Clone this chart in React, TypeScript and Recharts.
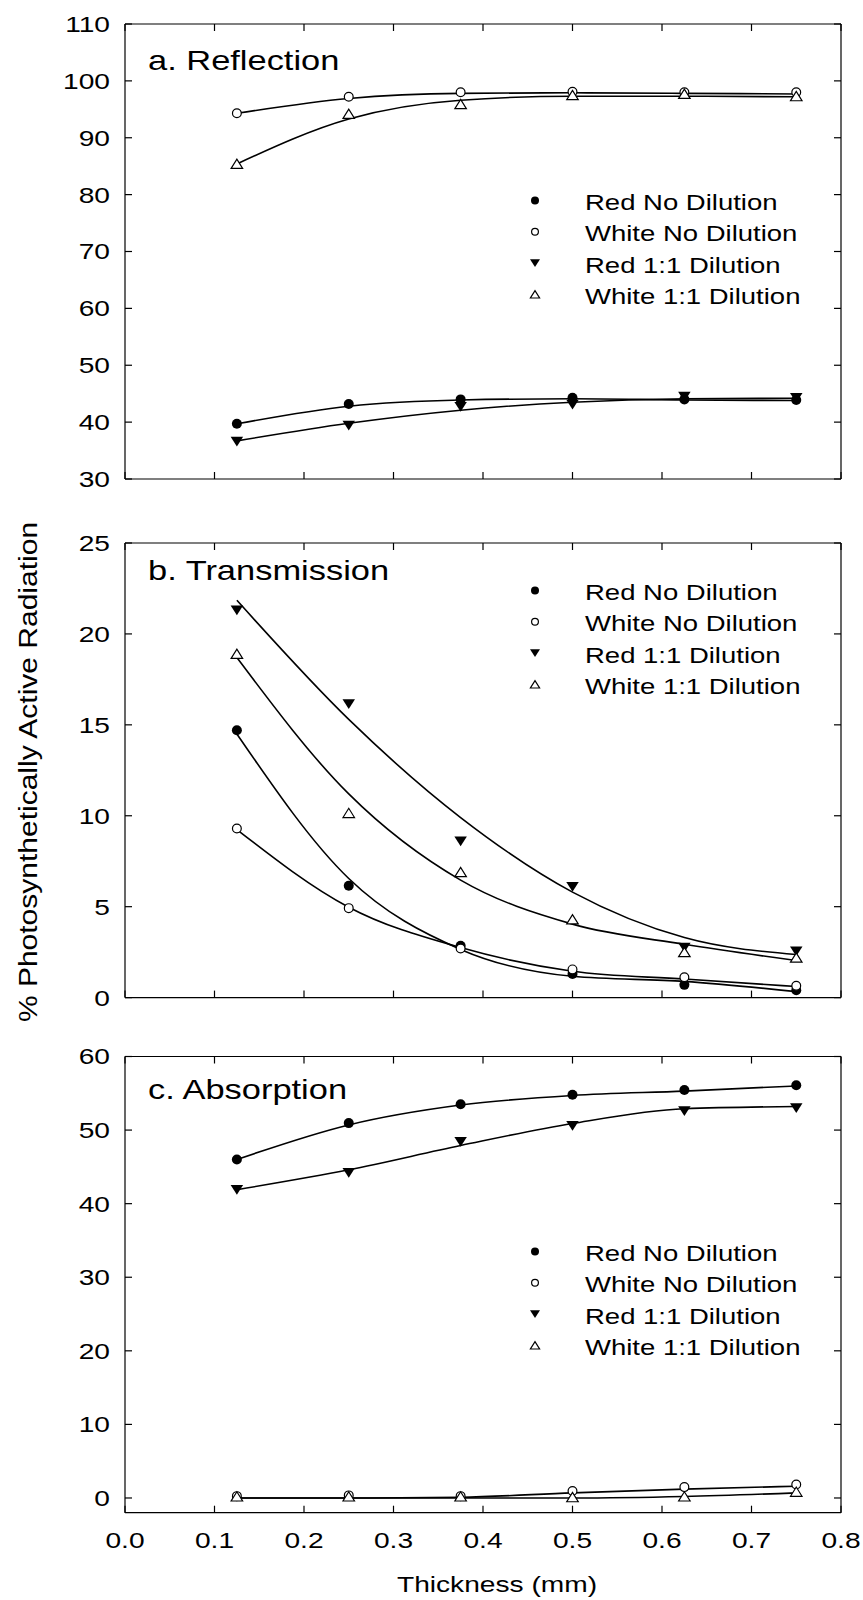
import React from 'react';
import { ComposedChart, Line, Scatter, XAxis, YAxis, Legend } from 'recharts';

const FONT = '"Liberation Sans", Arial, Helvetica, sans-serif';

const thickness = [0.125, 0.25, 0.375, 0.5, 0.625, 0.75];
const xTicks = [0, 0.1, 0.2, 0.3, 0.4, 0.5, 0.6, 0.7, 0.8];
const reflTicks = [30, 40, 50, 60, 70, 80, 90, 100, 110];
const transTicks = [0, 5, 10, 15, 20, 25];
const absTicks = [0, 10, 20, 30, 40, 50, 60];

// a. Reflection – measured points
const reflRedNo = [39.7, 43.2, 44.0, 44.3, 44.0, 43.9];
const reflWhiteNo = [94.3, 97.2, 98.0, 98.1, 98.0, 98.0];
const reflRed11 = [36.6, 39.4, 42.7, 43.1, 44.5, 44.3];
const reflWhite11 = [85.4, 94.2, 95.9, 97.5, 97.7, 97.3];
// a. Reflection – fitted curves
const reflRedNoFit = [39.7, 42.8, 43.9, 44.1, 43.9, 43.8];
const reflWhiteNoFit = [94.3, 96.9, 97.8, 97.9, 97.8, 97.7];
const reflRed11Fit = [36.7, 39.8, 42.1, 43.5, 44.1, 44.2];
const reflWhite11Fit = [85.4, 93.3, 96.6, 97.3, 97.3, 97.2];

// b. Transmission
const transRedNo = [14.7, 6.15, 2.85, 1.3, 0.7, 0.4];
const transWhiteNo = [9.3, 4.92, 2.7, 1.55, 1.12, 0.65];
const transRed11 = [21.3, 16.15, 8.6, 6.1, 2.75, 2.55];
const transWhite11 = [18.9, 10.15, 6.9, 4.3, 2.5, 2.2];
const transRedNoFit = [14.5, 6.55, 2.65, 1.17, 0.89, 0.33];
const transWhiteNoFit = [9.24, 4.97, 2.75, 1.45, 1.02, 0.61];
const transRed11Fit = [21.85, 15.3, 9.9, 5.8, 3.3, 2.37];
const transWhite11Fit = [18.7, 11.2, 6.46, 4.04, 2.93, 2.04];

// c. Absorption
const absRedNo = [46.0, 50.95, 53.5, 54.8, 55.45, 56.1];
const absWhiteNo = [0.25, 0.35, 0.25, 0.94, 1.48, 1.83];
const absRed11 = [41.9, 44.2, 48.4, 50.6, 52.6, 53.0];
const absWhite11 = [0.2, 0.2, 0.2, 0.1, 0.2, 0.84];
const absRedNoFit = [46.0, 50.7, 53.4, 54.7, 55.3, 56.0];
const absWhiteNoFit = [0.0, 0.0, 0.1, 0.7, 1.2, 1.6];
const absRed11Fit = [41.9, 44.6, 47.9, 50.9, 52.9, 53.2];
const absWhite11Fit = [0.0, 0.0, 0.0, 0.0, 0.2, 0.7];

const seriesNames = ['Red No Dilution', 'White No Dilution', 'Red 1:1 Dilution', 'White 1:1 Dilution'];
const seriesKeys = ['redNo', 'whiteNo', 'red11', 'white11'];
const seriesShapes = ['dot', 'circle', 'down', 'up'];

function buildRows(points: number[][], fits: number[][]) {
  return thickness.map((x, i) => {
    const row: Record<string, number> = { x };
    seriesKeys.forEach((k, s) => {
      row[k] = points[s][i];
      row[k + 'Fit'] = fits[s][i];
    });
    return row;
  });
}

function marker(kind: string, cx: number, cy: number, s: number) {
  switch (kind) {
    case 'dot':
      return <circle cx={cx} cy={cy} r={s} fill="#000" />;
    case 'circle':
      return <circle cx={cx} cy={cy} r={s - 0.6} fill="#fff" stroke="#000" strokeWidth={1.2} />;
    case 'down':
      return (
        <polygon
          points={`${cx - s * 1.25},${cy - s * 0.95} ${cx + s * 1.25},${cy - s * 0.95} ${cx},${cy + s * 1.0}`}
          fill="#000"
        />
      );
    default:
      return (
        <polygon
          points={`${cx - s * 1.15},${cy + s * 0.9} ${cx + s * 1.15},${cy + s * 0.9} ${cx},${cy - s * 0.95}`}
          fill="#fff"
          stroke="#000"
          strokeWidth={1.2}
        />
      );
  }
}

const STROKE = { stroke: '#000', strokeWidth: 1.2 };

const YTick = (props: any) => {
  const { x, y, payload } = props;
  return (
    <text
      transform={`translate(${x},${y}) scale(1.28,1)`}
      textAnchor="end"
      dy="0.36em"
      fontSize={22}
      fontFamily={FONT}
      fill="#000"
    >
      {payload.value}
    </text>
  );
};

const XTick = (props: any) => {
  const { x, y, payload } = props;
  return (
    <text
      transform={`translate(${x},${y}) scale(1.28,1)`}
      textAnchor="middle"
      dy="0.716em"
      fontSize={22}
      fontFamily={FONT}
      fill="#000"
    >
      {Number(payload.value).toFixed(1)}
    </text>
  );
};

const NoTick = () => <g />;

const LegendBox = () => (
  <svg width={320} height={130} style={{ display: 'block', overflow: 'visible' }}>
    {seriesNames.map((name, i) => {
      const cy = 12 + i * 31.3;
      return (
        <g key={name}>
          {marker(seriesShapes[i], 15, cy - 1.5, 4)}
          <text
            transform={`translate(65,${cy + 7.9}) scale(1.25,1)`}
            fontSize={22}
            fontFamily={FONT}
            fill="#000"
          >
            {name}
          </text>
        </g>
      );
    })}
  </svg>
);

const panels = [
  {
    title: 'a. Reflection',
    rows: buildRows(
      [reflRedNo, reflWhiteNo, reflRed11, reflWhite11],
      [reflRedNoFit, reflWhiteNoFit, reflRed11Fit, reflWhite11Fit]
    ),
    domain: [30, 110],
    ticks: reflTicks,
    top: 0,
    height: 500,
    mTop: 23,
    mBottom: 20,
    legendTop: 190,
    titleBase: 69.5,
    showX: false,
  },
  {
    title: 'b. Transmission',
    rows: buildRows(
      [transRedNo, transWhiteNo, transRed11, transWhite11],
      [transRedNoFit, transWhiteNoFit, transRed11Fit, transWhite11Fit]
    ),
    domain: [0, 25],
    ticks: transTicks,
    top: 520,
    height: 500,
    mTop: 22,
    mBottom: 21.4,
    legendTop: 59.7,
    titleBase: 580,
    showX: false,
  },
  {
    title: 'c. Absorption',
    rows: buildRows(
      [absRedNo, absWhiteNo, absRed11, absWhite11],
      [absRedNoFit, absWhiteNoFit, absRed11Fit, absWhite11Fit]
    ),
    domain: [-2, 60],
    ticks: absTicks,
    top: 1030,
    height: 570,
    mTop: 25.5,
    mBottom: 86.3,
    legendTop: 210.5,
    titleBase: 1099,
    showX: true,
  },
];

const Panel = ({ p }: { p: (typeof panels)[number] }) => (
  <div style={{ position: 'absolute', left: 0, top: p.top }}>
    <ComposedChart
      width={863}
      height={p.height}
      data={p.rows}
      margin={{ top: p.mTop, right: 21, bottom: p.mBottom, left: 0 }}
    >
      <XAxis
        xAxisId="b"
        type="number"
        dataKey="x"
        domain={[0, 0.8]}
        ticks={xTicks}
        interval={0}
        height={1}
        axisLine={STROKE}
        tickLine={STROKE}
        tickSize={-7}
        tickMargin={27}
        tick={p.showX ? (props: any) => <XTick {...props} /> : NoTick}
      />
      <XAxis
        xAxisId="t"
        orientation="top"
        type="number"
        dataKey="x"
        domain={[0, 0.8]}
        ticks={xTicks}
        interval={0}
        height={1}
        axisLine={STROKE}
        tickLine={STROKE}
        tickSize={-7}
        tick={NoTick}
      />
      <YAxis
        yAxisId="l"
        type="number"
        domain={p.domain}
        ticks={p.ticks}
        interval={0}
        width={125}
        axisLine={STROKE}
        tickLine={STROKE}
        tickSize={-7}
        tickMargin={22}
        tick={(props: any) => <YTick {...props} />}
      />
      <YAxis
        yAxisId="r"
        orientation="right"
        type="number"
        domain={p.domain}
        ticks={p.ticks}
        interval={0}
        width={1}
        axisLine={STROKE}
        tickLine={STROKE}
        tickSize={-7}
        tick={NoTick}
      />
      {/* keeps the top / right frame axes tied to data */}
      <Line
        xAxisId="t"
        yAxisId="r"
        dataKey="redNoFit"
        stroke="none"
        dot={false}
        activeDot={false}
        legendType="none"
        isAnimationActive={false}
      />
      {seriesKeys.map((k) => (
        <Line
          key={k + 'Fit'}
          xAxisId="b"
          yAxisId="l"
          type="monotone"
          dataKey={k + 'Fit'}
          stroke="#000"
          strokeWidth={1.6}
          dot={false}
          activeDot={false}
          legendType="none"
          isAnimationActive={false}
        />
      ))}
      {seriesKeys.map((k, i) => (
        <Scatter
          key={k}
          xAxisId="b"
          yAxisId="l"
          data={p.rows}
          dataKey={k}
          name={seriesNames[i]}
          shape={(sp: any) => marker(seriesShapes[i], sp.cx, sp.cy, 5)}
          isAnimationActive={false}
        />
      ))}
      <Legend
        layout="vertical"
        align="center"
        verticalAlign="middle"
        wrapperStyle={{ position: 'absolute', left: 520, top: p.legendTop, width: 320, height: 130 }}
        content={() => <LegendBox />}
      />
    </ComposedChart>
  </div>
);

export default function App() {
  return (
    <div
      style={{
        position: 'absolute',
        left: 0,
        top: 0,
        width: 863,
        height: 1600,
        background: '#fff',
        overflow: 'hidden',
      }}
    >
      {panels.map((p) => (
        <Panel key={p.title} p={p} />
      ))}
      <svg
        width={863}
        height={1600}
        style={{ position: 'absolute', left: 0, top: 0, pointerEvents: 'none' }}
      >
        {panels.map((p) => (
          <text
            key={p.title}
            transform={`translate(148,${p.titleBase}) scale(1.23,1)`}
            fontSize={28}
            fontFamily={FONT}
            fill="#000"
          >
            {p.title}
          </text>
        ))}
        <text
          transform="translate(37,772) rotate(-90) scale(1.154,1)"
          textAnchor="middle"
          fontSize={26}
          fontFamily={FONT}
          fill="#000"
        >
          % Photosynthetically Active Radiation
        </text>
        <text
          transform="translate(497,1592) scale(1.28,1)"
          textAnchor="middle"
          fontSize={22}
          fontFamily={FONT}
          fill="#000"
        >
          Thickness (mm)
        </text>
      </svg>
    </div>
  );
}
